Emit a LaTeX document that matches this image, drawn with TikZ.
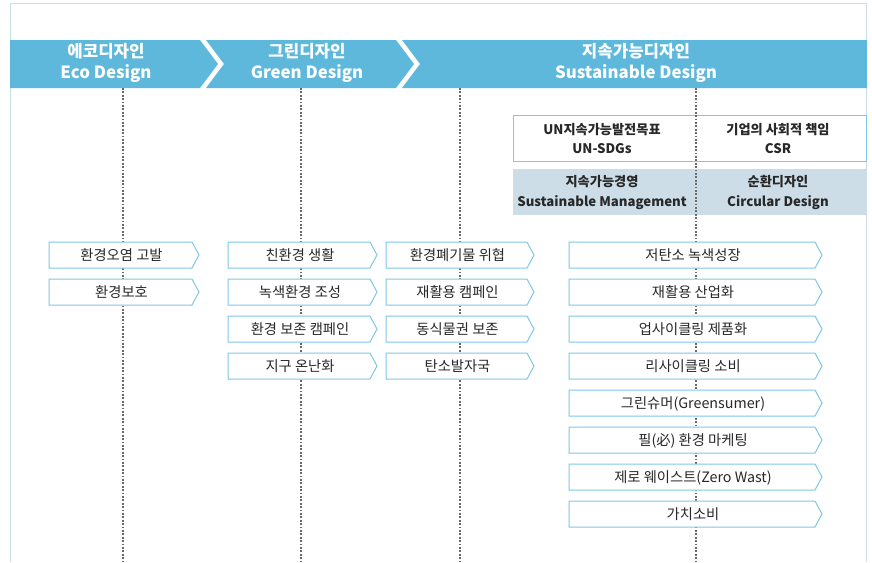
\documentclass[tikz,border=0pt]{standalone}
\usepackage{fontspec}
\setmainfont{Noto Sans CJK KR}
\definecolor{band}{RGB}{94,184,220}
\definecolor{boxline}{RGB}{126,200,230}
\definecolor{frameline}{RGB}{205,222,232}
\definecolor{graybox}{RGB}{205,221,231}
\definecolor{txt}{RGB}{40,40,40}
\definecolor{dashc}{RGB}{105,105,105}
\tikzset{
  hdr/.style={text=white, align=center, inner sep=0pt, font=\bfseries\fontsize{16.8}{21}\selectfont},
  toptxt/.style={text=txt, align=center, inner sep=0pt, font=\bfseries\fontsize{13.2}{19.5}\selectfont},
  btxt/.style={text=txt, inner sep=0pt, font=\fontsize{14.3}{16}\selectfont},
  aline/.style={draw=boxline, line width=1pt, fill=white, line join=miter},
  vline/.style={draw=dashc, line width=1.2pt, dash pattern=on 1.8pt off 1.6pt},
}
\newcommand\abox[5]{%
  \path[aline] (#2,#4) -- (#3,#4) -- ({#3+7},{#4+13}) -- (#3,{#4+26}) -- (#2,{#4+26}) -- cycle;
  \node[btxt] (#1) at ({(#2+#3)/2+1},{#4+13.5}) {#5};
}
\begin{document}
\begin{tikzpicture}[x=1pt,y=-1pt]
\useasboundingbox (0,0) rectangle (872,562);
\fill[white] (0,0) rectangle (872,562);
% frame
\draw[frameline, line width=1pt] (10,562) -- (10,3) -- (866,3) -- (866,562);
% header band
\fill[band] (10,40) -- (200,40) -- (218,64) -- (200,88) -- (10,88) -- cycle;
\fill[band] (206,40) -- (396,40) -- (414,64) -- (396,88) -- (206,88) -- (224,64) -- cycle;
\fill[band] (402,40) -- (867,40) -- (867,88) -- (402,88) -- (420,64) -- cycle;
\node[hdr] (heco) at (106,62.5) {에코디자인\\Eco Design};
\node[hdr] (hgreen) at (307,62.5) {그린디자인\\Green Design};
\node[hdr] (hsus) at (636,62.5) {지속가능디자인\\Sustainable Design};
% top right boxes
\draw[boxline, line width=1pt, fill=white] (513,115) rectangle (866,161);
\fill[graybox] (513,169) rectangle (866,215);
\node[toptxt] (sdg) at (602,138.5) {UN지속가능발전목표\\UN-SDGs};
\node[toptxt] (csr) at (778,138.5) {기업의 사회적 책임\\CSR};
\node[toptxt] (sm) at (602,192.5) {지속가능경영\\Sustainable Management};
\node[toptxt] (cd) at (778,192.5) {순환디자인\\Circular Design};
% dotted timelines
\foreach \i/\x in {1/123,2/301,3/460,4/696}{
  \coordinate (t\i) at (\x,88);
  \coordinate (b\i) at (\x,562);
  \draw[vline] (t\i) -- (b\i);
}
% eco column
\abox{e1}{49}{192}{242}{환경오염 고발}
\abox{e2}{49}{192}{279}{환경보호}
% green column
\abox{g1}{228}{370}{242}{친환경 생활}
\abox{g2}{228}{370}{279}{녹색환경 조성}
\abox{g3}{228}{370}{316}{환경 보존 캠페인}
\abox{g4}{228}{370}{353}{지구 온난화}
% third column
\abox{s1}{386}{527}{242}{환경폐기물 위협}
\abox{s2}{386}{527}{279}{재활용 캠페인}
\abox{s3}{386}{527}{316}{동식물권 보존}
\abox{s4}{386}{527}{353}{탄소발자국}
% fourth column
\abox{f1}{569}{815}{242}{저탄소 녹색성장}
\abox{f2}{569}{815}{279}{재활용 산업화}
\abox{f3}{569}{815}{316}{업사이클링 제품화}
\abox{f4}{569}{815}{353}{리사이클링 소비}
\abox{f5}{569}{815}{390}{그린슈머(Greensumer)}
\abox{f6}{569}{815}{427}{필(必) 환경 마케팅}
\abox{f7}{569}{815}{464}{제로 웨이스트(Zero Wast)}
\abox{f8}{569}{815}{501}{가치소비}
\end{tikzpicture}
\end{document}
